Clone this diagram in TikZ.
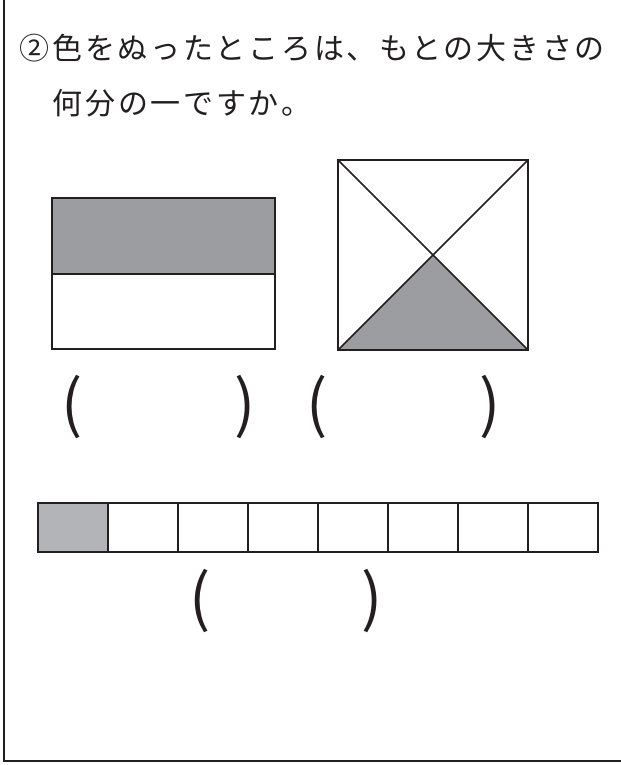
\documentclass[tikz,border=0pt]{standalone}
\usepackage{fontspec}
\newfontfamily\jpfont[LetterSpace=9]{Noto Sans CJK JP}
\newfontfamily\parenfont{Noto Sans CJK JP}
\definecolor{ink}{HTML}{231F20}
\definecolor{fillgray}{HTML}{9C9DA1}
\definecolor{lightgray}{HTML}{B3B4B7}

\begin{document}
\begin{tikzpicture}[x=0.75pt,y=-0.75pt,line width=1.2pt,draw=ink,
  qtext/.style={anchor=base west,inner sep=0pt,text=ink,
    font=\jpfont\fontsize{22.5pt}{26pt}\selectfont},
  paren/.style={inner sep=0pt,text=ink,
    font=\parenfont\fontsize{47pt}{54pt}\selectfont}]
\useasboundingbox (0,0) rectangle (621,765);
% frame
\draw[line width=1.5pt] (4,0) -- (4,761) -- (621,761);
% question
\node[qtext] (line1) at (19,59) {②色をぬったところは、もとの大きさの};
\node[qtext] (line2) at (52,114) {何分の一ですか。};
% half of a rectangle
\fill[fillgray] (52,198) rectangle (275,274);
\draw (52,198) rectangle (275,349);
\draw (52,274) -- (275,274);
% quarter of a square
\fill[fillgray] (338,350) -- (433,255) -- (528,350) -- cycle;
\draw (338,160) rectangle (528,350);
\draw (338,160) -- (528,350);
\draw (528,160) -- (338,350);
% strip of eight
\fill[lightgray] (38,503) rectangle (108,552);
\foreach \i in {0,...,7}
  \draw (38+70*\i,503) rectangle ++(70,49);
% answer brackets
\node[paren] (lpA) at (72,407) {(};
\node[paren] (rpA) at (245,407) {)};
\node[paren] (lpB) at (317,407) {(};
\node[paren] (rpB) at (490,407) {)};
\node[paren] (lpC) at (200,601) {(};
\node[paren] (rpC) at (372,601) {)};
\end{tikzpicture}
\end{document}
